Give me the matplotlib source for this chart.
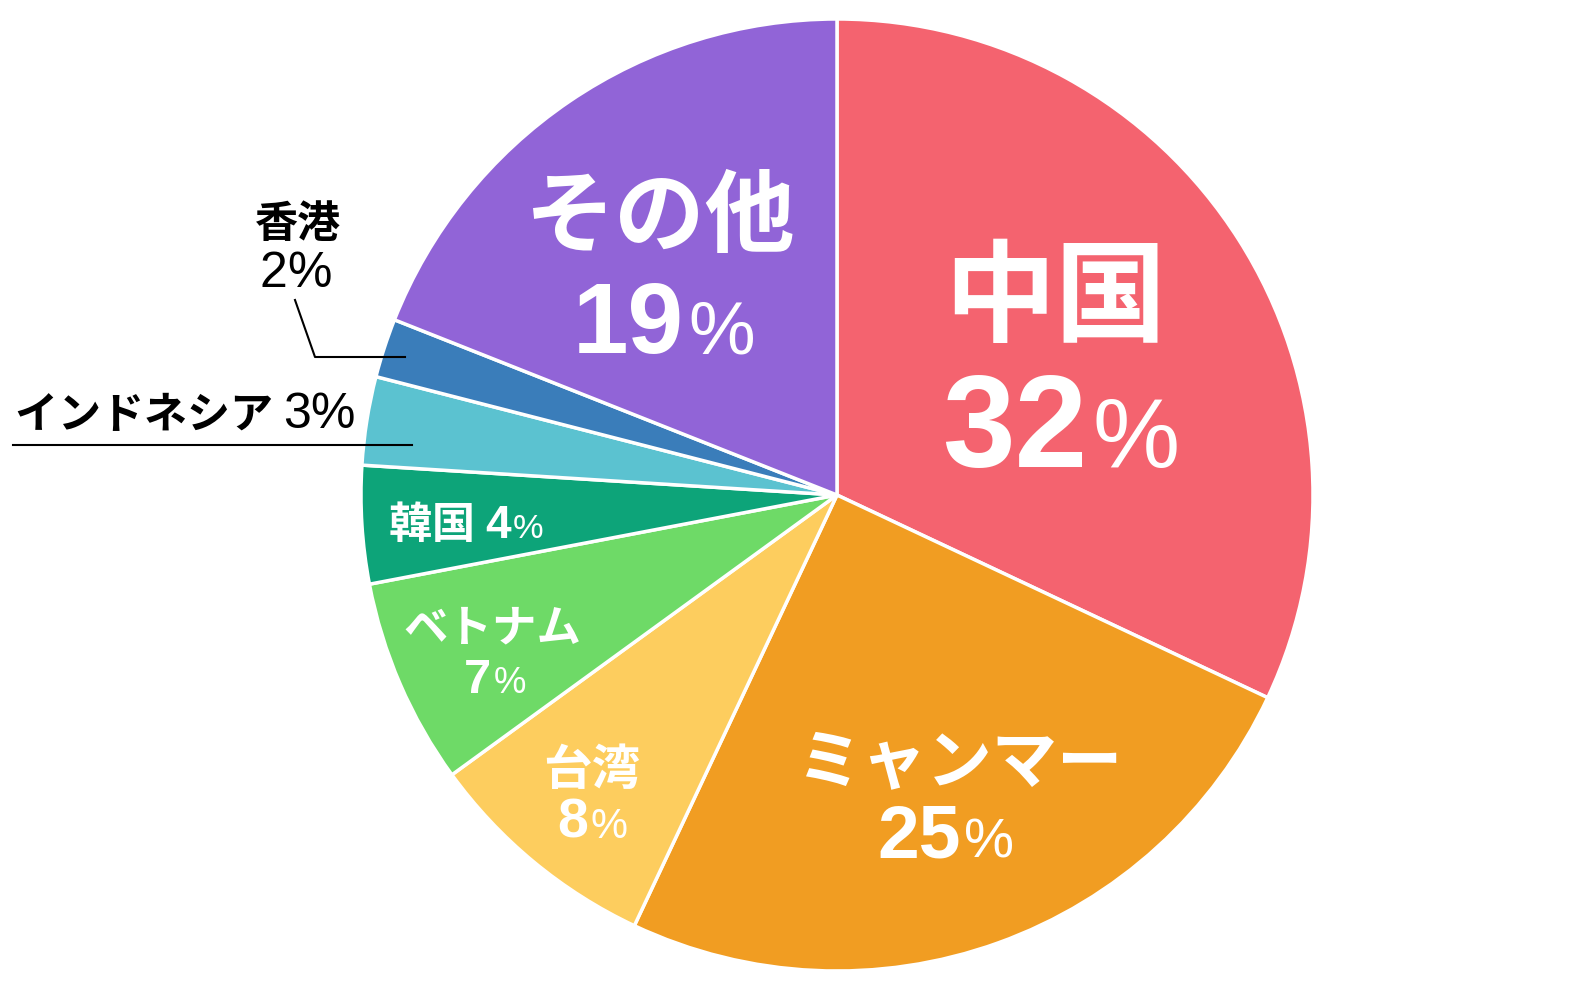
import matplotlib
matplotlib.use("Agg")
import matplotlib.pyplot as plt

plt.rcParams['font.family'] = ['Noto Sans CJK JP', 'DejaVu Sans']

countries = ['中国', 'ミャンマー', '台湾', 'ベトナム', '韓国', 'インドネシア', '香港', 'その他']
shares = [32, 25, 8, 7, 4, 3, 2, 19]
colors = ['#F4636F', '#F19D22', '#FDCD5E', '#6EDA67', '#0DA479', '#5BC2D0', '#3A7DBA', '#9164D7']

W, H = 1574, 1000
CX, CY, R = 837, 495, 476   # pie centre / radius in image pixels
NUM_FONT = ['Liberation Sans', 'DejaVu Sans']

fig = plt.figure(figsize=(W / 100, H / 100), dpi=100)
ax = fig.add_axes([(CX - R) / W, (H - CY - R) / H, 2 * R / W, 2 * R / H])
ax.pie(shares, colors=colors, startangle=90, counterclock=False, radius=1,
       wedgeprops=dict(edgecolor='white', linewidth=2.5))
ax.set_xlim(-1, 1)
ax.set_ylim(-1, 1)
ax.axis('off')

renderer = fig.canvas.get_renderer()


def px(x, y):
    # image pixel -> data coords
    return (x - CX) / R, (CY - y) / R


def name_text(x, y, s, size, color='white', weight='bold', ha='center'):
    # CJK glyphs sit high in their box, nudge down a little
    dx, dy = px(x, y + 0.1 * size * 100 / 72)
    ax.text(dx, dy, s, fontsize=size, color=color, fontweight=weight,
            ha=ha, va='center', clip_on=False)


def pct_text(x, y, s, size, pct_scale=0.75, color='white', weight='bold', ha='center',
             prefix=None, prefix_size=None, pct_weight='normal', gap=0.04):
    # [prefix] + number + smaller % sign, baseline at y
    parts = []
    if prefix:
        parts.append((prefix, prefix_size, 'bold', None))
    parts.append((s, size, weight, NUM_FONT))
    parts.append(('%', size * pct_scale, pct_weight, NUM_FONT))
    arts, widths = [], []
    for txt, sz, wt, fam in parts:
        kw = dict(family=fam) if fam else {}
        t = ax.text(0, 0, txt, fontsize=sz, color=color, fontweight=wt,
                    ha='left', va='baseline', clip_on=False, **kw)
        arts.append(t)
        widths.append(t.get_window_extent(renderer).width)
    widths[-2] += gap * size * 100 / 72
    total = sum(widths)
    x0 = x - total / 2 if ha == 'center' else x
    for t, w in zip(arts, widths):
        t.set_position(px(x0, y))
        x0 += w


# inside labels
name_text(1055, 290, '中国', 80)
pct_text(1061, 467, '32', 94, pct_scale=0.75)
name_text(660, 209, 'その他', 65)
pct_text(664, 353, '19', 72, pct_scale=0.75)
name_text(960, 756, 'ミャンマー', 47)
pct_text(946, 858, '25', 54, pct_scale=0.75)
name_text(592, 766, '台湾', 35)
pct_text(592, 838, '8', 40, pct_scale=0.75)
name_text(492, 624, 'ベトナム', 32)
pct_text(495, 693, '7', 35, pct_scale=0.75)
pct_text(466, 538, '4', 33, pct_scale=0.75, prefix='韓国 ', prefix_size=31)

# outside labels
name_text(298, 220, '香港', 31, color='black')
pct_text(296, 287, '2', 36, pct_scale=1.0, color='black', weight='normal', gap=0)
pct_text(15, 428, '3', 36, pct_scale=1.0, color='black', weight='normal', ha='left',
         prefix='インドネシア ', prefix_size=31, gap=0)

# leader lines
for xs, ys in [([295, 315, 405], [300, 357, 357]), ([13, 412], [445, 445])]:
    pts = [px(x, y) for x, y in zip(xs, ys)]
    ax.plot([p[0] for p in pts], [p[1] for p in pts], color='black', linewidth=1.5,
            clip_on=False)

fig.savefig('out.png', dpi=100)
